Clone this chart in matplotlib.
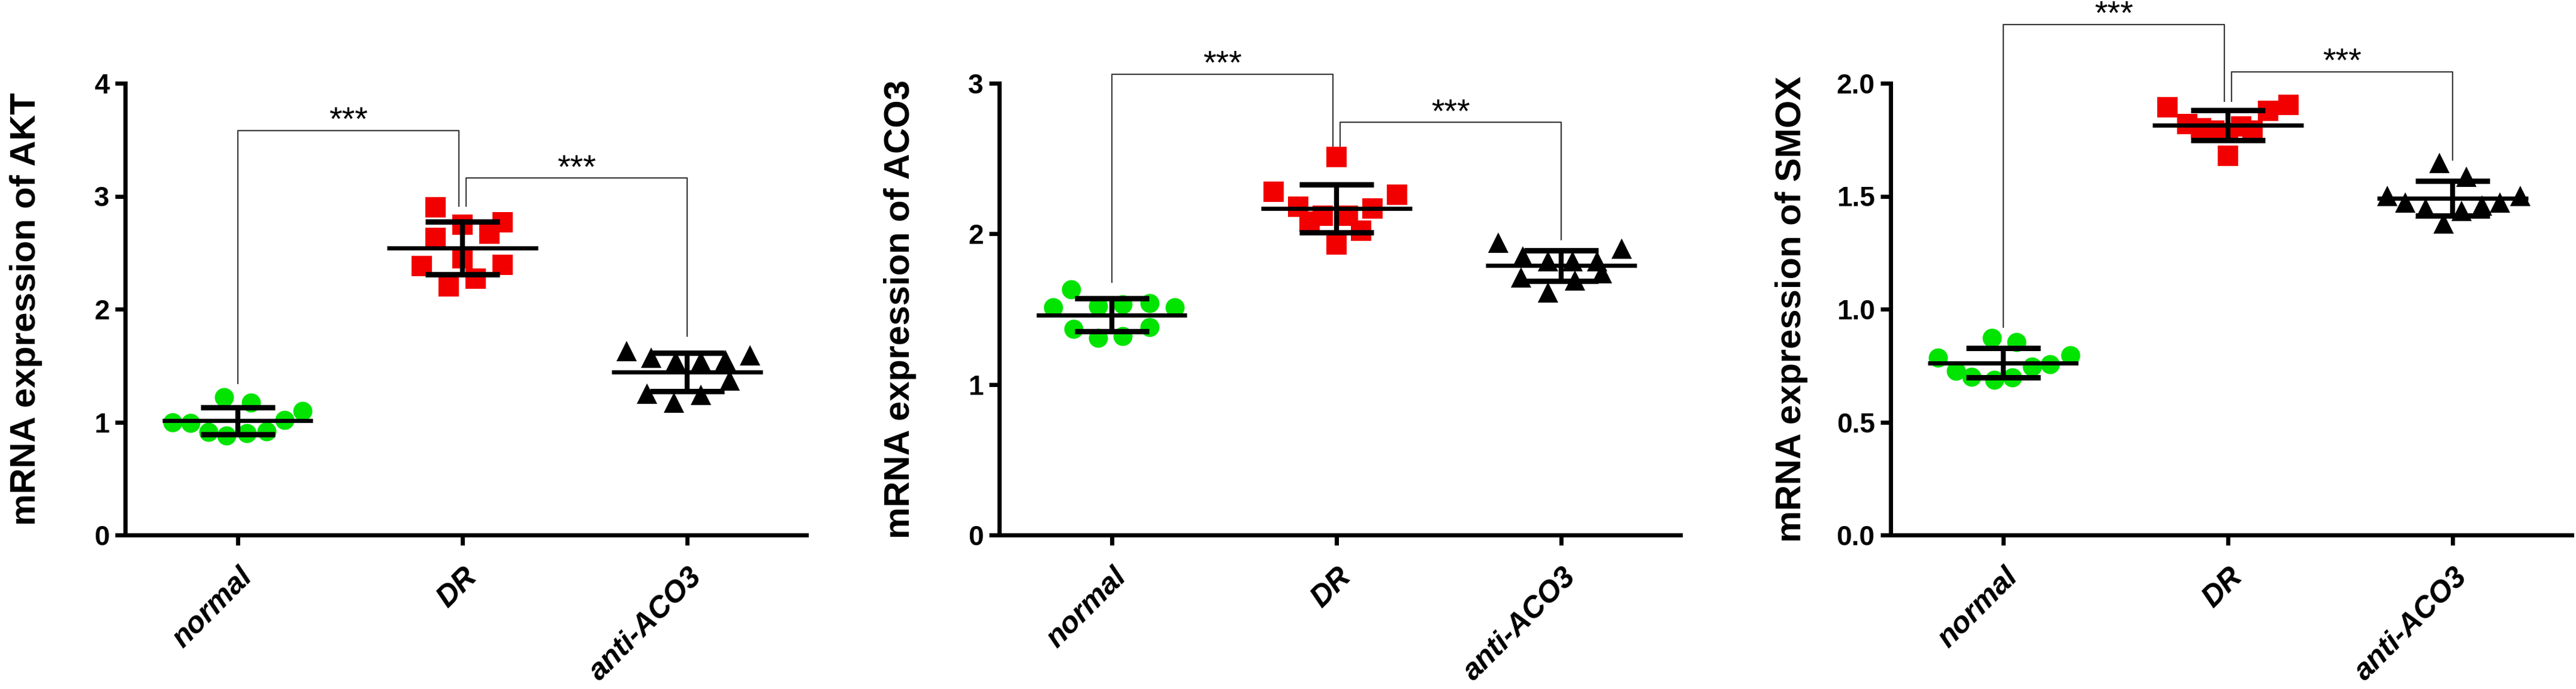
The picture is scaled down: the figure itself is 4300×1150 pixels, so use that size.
import numpy as np
import matplotlib.pyplot as plt
import matplotlib.transforms as mtransforms

plt.rcParams['font.family'] = ['Liberation Sans', 'DejaVu Sans']

groups = ["normal", "DR", "anti-ACO3"]

# panel 1: AKT
akt_normal = [1.22, 1.17, 1.10, 0.99, 1.02, 0.91, 0.88, 0.90, 0.92, 1.00]
akt_dr = [2.90, 2.63, 2.75, 2.45, 2.77, 2.67, 2.38, 2.39, 2.20, 2.27]
akt_anti = [1.63, 1.57, 1.54, 1.54, 1.55, 1.59, 1.37, 1.25, 1.17, 1.24]

# panel 2: ACO3
aco3_normal = [1.63, 1.51, 1.52, 1.54, 1.51, 1.37, 1.31, 1.32, 1.38, 1.53]
aco3_dr = [2.51, 2.28, 2.26, 2.18, 2.17, 2.08, 2.12, 2.12, 2.02, 1.93]
aco3_anti = [1.94, 1.90, 1.85, 1.82, 1.82, 1.82, 1.71, 1.74, 1.69, 1.61]

# panel 3: SMOX
smox_normal = [0.785, 0.727, 0.70, 0.873, 0.687, 0.854, 0.698, 0.745, 0.756, 0.796]
smox_dr = [1.894, 1.905, 1.878, 1.820, 1.80, 1.79, 1.81, 1.79, 1.78, 1.679]
smox_anti = [1.647, 1.586, 1.501, 1.501, 1.472, 1.472, 1.446, 1.459, 1.435, 1.379]

# horizontal spread of the dots inside each column (scatter dot plot layout)
akt_dx = [[-0.06, 0.06, 0.29, -0.21, 0.21, -0.13, -0.05, 0.04, 0.13, -0.29],
          [-0.12, -0.12, 0, 0, 0.18, 0.12, -0.18, 0.18, -0.06, 0.06],
          [-0.27, -0.16, -0.05, 0.06, 0.17, 0.28, 0.19, -0.18, -0.06, 0.06]]
aco3_dx = [[-0.18, -0.26, -0.06, 0.17, 0.28, -0.17, -0.06, 0.05, 0.17, 0.05],
           [0, -0.28, 0.27, -0.17, 0.16, -0.12, -0.06, 0.05, 0.11, 0],
           [-0.28, 0.27, -0.17, -0.06, 0.05, 0.16, -0.18, 0.18, 0.06, -0.06]]
smox_dx = [[-0.29, -0.21, -0.14, -0.05, -0.04, 0.06, 0.04, 0.13, 0.21, 0.30],
           [-0.27, 0.27, 0.18, -0.18, -0.12, -0.06, 0.06, 0.11, 0, 0],
           [-0.06, 0.06, -0.29, 0.30, -0.21, 0.21, -0.12, 0.13, 0.04, -0.04]]

# significance brackets: (left group, right group, top, left leg end, right leg end)
akt_sig = [(0, 1, 3.58, 1.34, 2.91), (1, 2, 3.16, 2.91, 1.76)]
aco3_sig = [(0, 1, 3.06, 1.68, 2.56), (1, 2, 2.74, 2.56, 1.96)]
smox_sig = [(0, 1, 2.26, 0.92, 1.92), (1, 2, 2.05, 1.92, 1.66)]

akt_ticks = [0, 1, 2, 3, 4]
aco3_ticks = [0, 1, 2, 3]
smox_ticks = [0.0, 0.5, 1.0, 1.5, 2.0]

panels = [
    ("mRNA expression of AKT", [akt_normal, akt_dr, akt_anti], akt_dx, akt_sig, akt_ticks, "%d"),
    ("mRNA expression of ACO3", [aco3_normal, aco3_dr, aco3_anti], aco3_dx, aco3_sig, aco3_ticks, "%d"),
    ("mRNA expression of SMOX", [smox_normal, smox_dr, smox_anti], smox_dx, smox_sig, smox_ticks, "%.1f"),
]

markers = ["o", "s", "^"]
colors = ["#00E400", "#F20000", "black"]
msizes = [23, 24, 25]

fig = plt.figure(figsize=(43, 11.5), dpi=100)
lefts = [209, 1668, 3156]
shift = mtransforms.ScaledTranslation(0.17, -0.63, fig.dpi_scale_trans)

for p, (ylab, data, dx, sig, ticks, fmt) in enumerate(panels):
    ax = fig.add_axes([lefts[p] / 4300, 257 / 1150, 1137 / 4300, 754 / 1150])

    for i in range(3):
        vals = np.array(data[i])
        xs = i + np.array(dx[i])
        ax.plot(xs, vals, ls="none", marker=markers[i], color=colors[i],
                markersize=msizes[i], markeredgewidth=0, zorder=3)
        m = vals.mean()
        sd = vals.std(ddof=1)
        ax.hlines(m, i - 0.335, i + 0.335, color="black", lw=5, zorder=4)
        ax.hlines([m - sd, m + sd], i - 0.165, i + 0.165, color="black", lw=6.5, zorder=4)
        ax.vlines(i, m - sd, m + sd, color="black", lw=6, zorder=4)

    for (a, b, top, ya, yb) in sig:
        xa = a + (0.015 if a == 1 else 0)
        xb = b - (0.015 if b == 1 else 0)
        ax.plot([xa, xa, xb, xb], [ya, top, top, yb], color="#3a3a3a", lw=1.6,
                clip_on=False, zorder=2)
        ax.annotate("***", ((xa + xb) / 2, top), xytext=(0, 1), textcoords="offset points",
                    ha="center", va="baseline", fontsize=40, annotation_clip=False)

    ax.set_xlim(-0.5, 2.53)
    ax.set_ylim(ticks[0], ticks[-1])
    ax.set_yticks(ticks)
    ax.set_yticklabels([fmt % t for t in ticks])
    ax.set_xticks(range(3))
    ax.set_xticklabels([])
    for i, g in enumerate(groups):
        ax.text(i, 0, g, transform=ax.get_xaxis_transform() + shift, rotation=45,
                ha="right", va="center", rotation_mode="anchor",
                fontstyle="italic", fontweight="bold", fontsize=36)

    for s in ["top", "right"]:
        ax.spines[s].set_visible(False)
    for s in ["left", "bottom"]:
        ax.spines[s].set_linewidth(5)
    ax.tick_params(axis="both", width=5, length=12)
    ax.tick_params(axis="y", labelsize=33, pad=7)
    for t in ax.get_yticklabels():
        t.set_fontweight("bold")

    ax.set_ylabel(ylab, fontsize=43, fontweight="bold")
    ax.yaxis.set_label_coords(-0.121, 0.5)

fig.savefig("out.png", dpi=100, facecolor="white")
